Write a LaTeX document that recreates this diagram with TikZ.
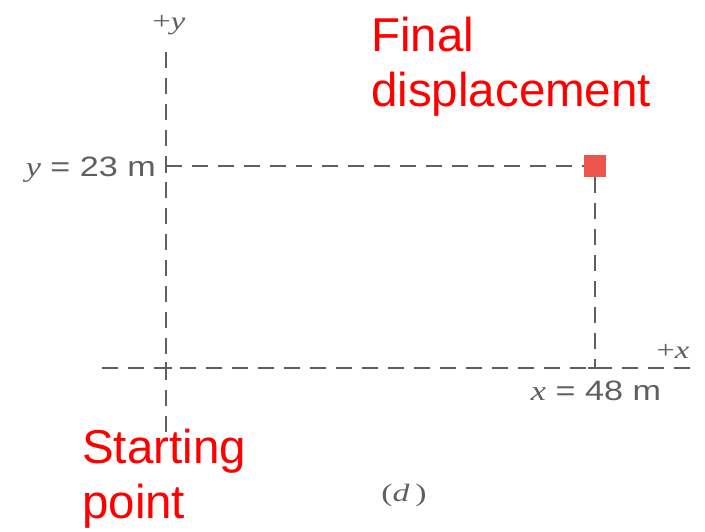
\documentclass[tikz,border=0pt]{standalone}
\usepackage{fontspec}
\usetikzlibrary{calc}
\setmainfont{Liberation Sans}
\newfontfamily\serifit{Liberation Serif}
\definecolor{axisgray}{RGB}{95,95,95}
\definecolor{markred}{RGB}{238,84,78}
\newcommand{\widetext}[2]{\scalebox{#1}[1]{#2}}
\begin{document}
\begin{tikzpicture}[x=1pt,y=-1pt,
  axisline/.style={draw=axisgray,line width=2.3pt,dash pattern=on 16pt off 10pt},
  guideline/.style={draw=axisgray,line width=2.3pt,dash pattern=on 16pt off 10pt},
  ticklabel/.style={text=axisgray,font=\fontsize{28}{30}\selectfont,inner sep=0pt},
  axislabel/.style={text=axisgray,font=\serifit\fontsize{25}{27}\selectfont,inner sep=0pt},
  redlabel/.style={text=red,font=\fontsize{47.5}{55}\selectfont,align=left,inner sep=0pt},
  endmark/.style={fill=markred,draw=none,minimum size=22pt,inner sep=0pt}]
\useasboundingbox (0,0) rectangle (705,532);
% axes
\coordinate (ytop) at (166,52);
\coordinate (ybot) at (166,432);
\coordinate (xleft) at (102,368);
\coordinate (xright) at (692,368);
\coordinate (O) at (166,368);
\coordinate (ytick) at (166,166);
\coordinate (xtick) at (595,368);
\draw[axisline] (ytop) -- (ybot);
\draw[axisline] (xleft) -- (xright);
\draw[axisgray,line width=2.3pt] ($(O)+(-6,0)$) -- ($(O)+(6,0)$);
\draw[axisgray,line width=2.3pt] ($(O)+(0,-6)$) -- ($(O)+(0,6)$);
% final point
\node[endmark] (final) at (595,166) {};
\draw[guideline] (ytick) -- (final.west);
\draw[guideline] (final.south) -- (xtick);
\draw[axisgray,line width=2.3pt] ($(xtick)+(-7,0)$) -- ($(xtick)+(7,0)$);
\draw[axisgray,line width=2.3pt] ($(ytick)+(0,-7)$) -- ($(ytick)+(0,7)$);
% labels
\node[axislabel,anchor=base] (py) at (169,30) {\widetext{1.3}{+\textit{y}}};
\node[axislabel,anchor=base] (px) at (673,358) {\widetext{1.3}{+\textit{x}}};
\node[ticklabel,anchor=base east] (ylab) at (156,177) {\widetext{1.22}{{\serifit\itshape y} = 23 m}};
\node[ticklabel,anchor=base] (xlab) at (596,400) {\widetext{1.22}{{\serifit\itshape x} = 48 m}};
\node[axislabel,anchor=base] (cap) at (404,501) {\widetext{1.35}{(\textit{d}\,)}};
\node[redlabel,anchor=base west] (fin) at (371,107) {Final\\displacement};
\node[redlabel,anchor=base west] (start) at (82,518) {Starting\\point};
\end{tikzpicture}
\end{document}
